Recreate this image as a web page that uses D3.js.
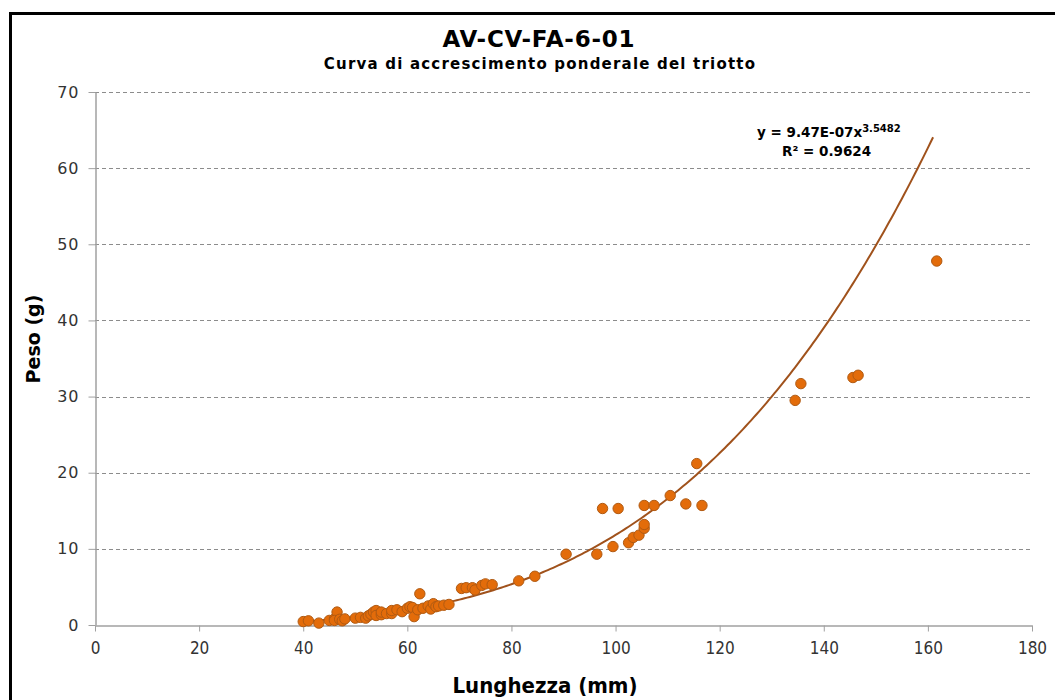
<!DOCTYPE html>
<html>
<head>
<meta charset="utf-8">
<script src="https://cdn.jsdelivr.net/npm/d3@7"></script>
<style>
  body { margin: 0; background: #fff; }
  svg { display: block; }
</style>
</head>
<body>
<div id="chart"></div>
<script>
// lunghezza (mm) / peso (g)
const lunghezza = [40, 41, 43, 45, 46, 46.5, 46, 47, 47.5, 48,
  50, 51, 52, 52.5, 53, 53.5, 54, 54, 55, 55, 56, 57, 57, 58, 59,
  60, 60.5, 61, 61.3, 62, 62.4, 63, 64, 64.5, 65, 65.5, 66, 67, 68,
  70.4, 71.3, 72.5, 73, 74.3, 75, 76.3,
  81.4, 84.5, 90.5, 96.4, 97.5, 99.5, 100.5, 102.5, 103.4, 104.5, 105.5, 105.5, 105.5, 107.4, 110.5, 113.5, 115.6, 116.6,
  134.5, 135.6, 145.6, 146.6, 161.7];
const peso = [0.45, 0.55, 0.25, 0.6, 0.8, 1.7, 0.6, 0.75, 0.55, 0.8,
  0.9, 1.0, 0.9, 1.2, 1.4, 1.7, 1.9, 1.25, 1.35, 1.7, 1.5, 1.5, 1.9, 2.0, 1.75,
  2.2, 2.4, 2.3, 1.1, 2.0, 4.1, 2.2, 2.5, 2.1, 2.8, 2.4, 2.5, 2.6, 2.7,
  4.8, 4.9, 4.9, 4.6, 5.2, 5.4, 5.3,
  5.8, 6.4, 9.3, 9.3, 15.3, 10.3, 15.3, 10.8, 11.5, 11.8, 12.7, 13.2, 15.7, 15.7, 17.0, 15.9, 21.2, 15.7,
  29.5, 31.7, 32.5, 32.8, 47.8];

const xTicks = [0, 20, 40, 60, 80, 100, 120, 140, 160, 180];
const yTicks = [0, 10, 20, 30, 40, 50, 60, 70];

// power trendline shown on the chart
const trendA = 9.47e-7;
const trendB = 3.5482;
const trendR2 = 0.9624;

const W = 1055, H = 700;
const plot = { left: 95, right: 1032, top: 92, bottom: 625 };
const font = '"DejaVu Sans", Verdana, sans-serif';
const fontCond = '"DejaVu Sans Condensed", "DejaVu Sans", sans-serif';

const svg = d3.select('#chart').append('svg')
  .attr('width', W)
  .attr('height', H);

// outer frame (right and bottom edges fall outside the picture)
svg.append('rect')
  .attr('x', 10.5).attr('y', 13.5)
  .attr('width', 1060).attr('height', 720)
  .attr('fill', '#fff')
  .attr('stroke', '#000')
  .attr('stroke-width', 3);

const x = d3.scaleLinear().domain([0, 180]).range([plot.left, plot.right]);
const y = d3.scaleLinear().domain([0, 70]).range([plot.bottom, plot.top]);

// grid
svg.append('g')
  .selectAll('line')
  .data(yTicks.filter(d => d > 0))
  .join('line')
  .attr('x1', plot.left).attr('x2', plot.right)
  .attr('y1', d => Math.round(y(d)) + 0.5).attr('y2', d => Math.round(y(d)) + 0.5)
  .attr('stroke', '#8c8c8c')
  .attr('stroke-dasharray', '4,3')
  .attr('stroke-width', 1);

// axes
const gx = svg.append('g')
  .attr('transform', `translate(0, ${plot.bottom + 0.5})`)
  .call(d3.axisBottom(x).tickValues(xTicks).tickSize(6).tickPadding(10).tickSizeOuter(0));
gx.select('.domain').attr('stroke', '#a0a0a0').attr('stroke-width', 1.5);
gx.selectAll('.tick line').attr('stroke', '#a0a0a0');
gx.selectAll('.tick text')
  .attr('fill', '#333')
  .style('font-family', fontCond)
  .style('font-size', '17px');

const gy = svg.append('g')
  .attr('transform', `translate(${plot.left + 0.5}, 0)`)
  .call(d3.axisLeft(y).tickValues(yTicks).tickSize(7).tickPadding(9).tickSizeOuter(0));
gy.select('.domain').attr('stroke', '#a0a0a0').attr('stroke-width', 1.5);
gy.selectAll('.tick line').attr('stroke', '#a0a0a0');
gy.selectAll('.tick text')
  .attr('fill', '#333')
  .style('font-family', font)
  .style('font-size', '16px')
  .style('letter-spacing', '1px');

// trendline
const trendX = d3.range(40, 161.01, 0.5);
const line = d3.line()
  .x(d => x(d))
  .y(d => y(trendA * Math.pow(d, trendB)));
svg.append('path')
  .datum(trendX)
  .attr('d', line)
  .attr('fill', 'none')
  .attr('stroke', '#a0521c')
  .attr('stroke-width', 2);

// points
svg.append('g')
  .selectAll('circle')
  .data(lunghezza.map((d, i) => [d, peso[i]]))
  .join('circle')
  .attr('cx', d => x(d[0]))
  .attr('cy', d => y(d[1]))
  .attr('r', 5.2)
  .attr('fill', '#e36c0a')
  .attr('stroke', '#b05a12')
  .attr('stroke-width', 1);

// titles
svg.append('text')
  .attr('x', 539).attr('y', 47)
  .attr('text-anchor', 'middle')
  .style('font-family', font)
  .style('font-weight', 'bold')
  .style('font-size', '23px')
  .style('letter-spacing', '0.8px')
  .text('AV-CV-FA-6-01');

svg.append('text')
  .attr('x', 540).attr('y', 69)
  .attr('text-anchor', 'middle')
  .style('font-family', font)
  .style('font-weight', 'bold')
  .style('font-size', '15px')
  .style('letter-spacing', '1.2px')
  .text('Curva di accrescimento ponderale del triotto');

svg.append('text')
  .attr('x', 545).attr('y', 693)
  .attr('text-anchor', 'middle')
  .style('font-family', fontCond)
  .style('font-weight', 'bold')
  .style('font-size', '22px')
  .text('Lunghezza (mm)');

svg.append('text')
  .attr('transform', 'translate(40, 339) rotate(-90)')
  .attr('text-anchor', 'middle')
  .style('font-family', font)
  .style('font-weight', 'bold')
  .style('font-size', '19px')
  .text('Peso (g)');

// equation
const eq = svg.append('text')
  .attr('x', 757).attr('y', 137)
  .style('font-family', font)
  .style('font-weight', 'bold')
  .style('font-size', '13.5px');
eq.append('tspan').text('y = 9.47E-07x');
eq.append('tspan').attr('dy', -5).style('font-size', '10px').text(trendB);

svg.append('text')
  .attr('x', 782).attr('y', 156)
  .style('font-family', font)
  .style('font-weight', 'bold')
  .style('font-size', '13.5px')
  .text('R² = ' + trendR2);
</script>
</body>
</html>
